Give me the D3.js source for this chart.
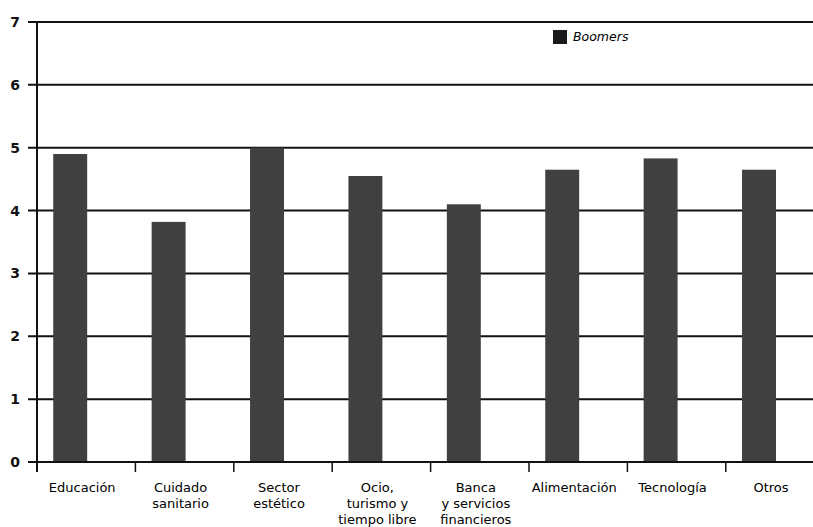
<!DOCTYPE html>
<html>
<head>
<meta charset="utf-8">
<script src="https://cdn.jsdelivr.net/npm/d3@7"></script>
<style>
  body { margin: 0; background: #fff; }
  svg { display: block; font-family: "DejaVu Sans", Verdana, sans-serif; }
</style>
</head>
<body>
<div id="chart"></div>
<script>
var categories = [
  ["Educación"],
  ["Cuidado", "sanitario"],
  ["Sector", "estético"],
  ["Ocio,", "turismo y", "tiempo libre"],
  ["Banca", "y servicios", "financieros"],
  ["Alimentación"],
  ["Tecnología"],
  ["Otros"]
];
var boomers = [4.9, 3.82, 5.0, 4.55, 4.1, 4.65, 4.83, 4.65];
var yTicks = [0, 1, 2, 3, 4, 5, 6, 7];
var seriesName = "Boomers";

(function chart() {
  var W = 813, H = 527;
  var margin = { top: 22, left: 37, bottom: 65 },
    height = H - margin.top - margin.bottom;

  var svg = d3.select("#chart").append("svg")
    .attr("width", W)
    .attr("height", H);

  var keys = categories.map(function(d) { return d.join(" "); });

  var x = d3.scaleBand()
    .domain(keys)
    .range([margin.left, margin.left + 98.4 * keys.length])
    .paddingInner(0)
    .paddingOuter(0);

  var y = d3.scaleLinear()
    .domain([0, 7])
    .range([margin.top + height, margin.top]);

  // gridlines + left ticks
  svg.append("g")
    .selectAll("line")
    .data(yTicks)
    .enter().append("line")
    .attr("x1", margin.left - 9)
    .attr("x2", W)
    .attr("y1", function(d) { return y(d); })
    .attr("y2", function(d) { return y(d); })
    .attr("stroke", "#111")
    .attr("stroke-width", 2);

  svg.append("g")
    .selectAll("text")
    .data(yTicks)
    .enter().append("text")
    .attr("x", 20)
    .attr("y", function(d) { return y(d); })
    .attr("dy", "0.36em")
    .attr("text-anchor", "end")
    .attr("font-size", 14)
    .attr("font-weight", "bold")
    .attr("fill", "#111")
    .text(function(d) { return d; });

  // bars
  var bw = x.bandwidth();
  svg.append("g")
    .selectAll("rect")
    .data(boomers)
    .enter().append("rect")
    .attr("x", function(d, i) { return x(keys[i]) + bw * 0.165; })
    .attr("width", bw * 0.345)
    .attr("y", function(d) { return y(d); })
    .attr("height", function(d) { return y(0) - y(d); })
    .attr("fill", "#404040");

  // y axis line
  svg.append("line")
    .attr("x1", margin.left).attr("x2", margin.left)
    .attr("y1", y(7)).attr("y2", y(0) + 10)
    .attr("stroke", "#111")
    .attr("stroke-width", 2);

  // x axis line (baseline redraw over bars)
  svg.append("line")
    .attr("x1", margin.left - 9).attr("x2", W)
    .attr("y1", y(0)).attr("y2", y(0))
    .attr("stroke", "#111")
    .attr("stroke-width", 2);

  // x ticks at band boundaries
  svg.append("g")
    .selectAll("line")
    .data(keys)
    .enter().append("line")
    .attr("x1", function(d) { return x(d); })
    .attr("x2", function(d) { return x(d); })
    .attr("y1", y(0))
    .attr("y2", y(0) + 10)
    .attr("stroke", "#111")
    .attr("stroke-width", 1.5);

  // x labels
  var labels = svg.append("g")
    .selectAll("text")
    .data(categories)
    .enter().append("text")
    .attr("text-anchor", "middle")
    .attr("font-size", 13)
    .attr("fill", "#000")
    .attr("transform", function(d, i) {
      return "translate(" + (x(keys[i]) + bw / 2 - 4) + "," + (y(0) + 30) + ")";
    });

  labels.selectAll("tspan")
    .data(function(d) { return d; })
    .enter().append("tspan")
    .attr("x", 0)
    .attr("y", function(d, i) { return i * 16; })
    .text(function(d) { return d; });

  // legend
  var legend = svg.append("g")
    .attr("transform", "translate(553,30)");

  legend.append("rect")
    .attr("width", 14)
    .attr("height", 14)
    .attr("fill", "#1a1a1a");

  legend.append("text")
    .attr("x", 20)
    .attr("y", 11)
    .attr("font-size", 12.5)
    .attr("font-style", "italic")
    .attr("fill", "#000")
    .text(seriesName);
})();
</script>
</body>
</html>
